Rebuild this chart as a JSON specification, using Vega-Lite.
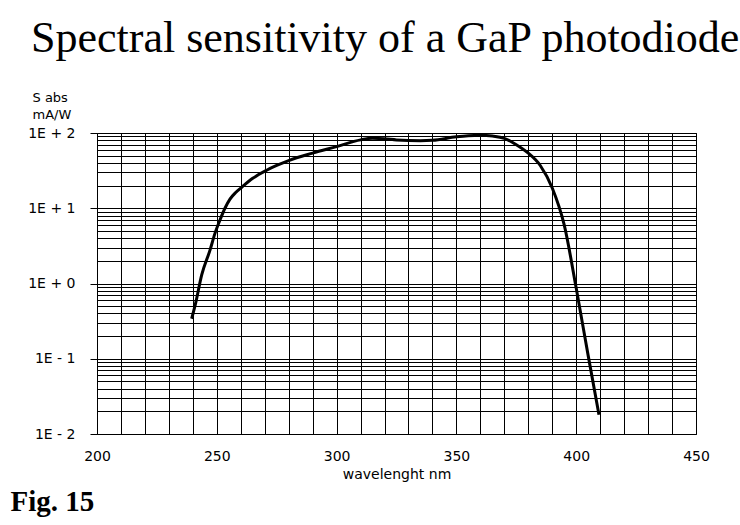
{
  "$schema": "https://vega.github.io/schema/vega-lite/v6.json",
  "width": 599,
  "height": 301,
  "autosize": {"type": "none"},
  "padding": {"left": 97, "top": 133, "right": 44, "bottom": 91},
  "background": "white",
  "title": {
    "text": "Spectral sensitivity of a GaP photodiode",
    "font": "Liberation Serif",
    "fontSize": 44,
    "fontWeight": "normal",
    "color": "black",
    "anchor": "start",
    "frame": "group",
    "dx": -66,
    "offset": 30
  },
  "config": {
    "view": {"stroke": "black", "strokeWidth": 1},
    "axis": {"labelColor": "black", "titleColor": "black", "gridColor": "black", "gridOpacity": 1, "gridWidth": 1}
  },
  "data": {
    "values": [
      {"wl": 239.5, "s": 0.34},
      {"wl": 241, "s": 0.52},
      {"wl": 243.7, "s": 1.3},
      {"wl": 247.2, "s": 2.8},
      {"wl": 249.2, "s": 4.6},
      {"wl": 251.5, "s": 7.2},
      {"wl": 253.4, "s": 10},
      {"wl": 255.5, "s": 13.2},
      {"wl": 258, "s": 16.3},
      {"wl": 260.4, "s": 19},
      {"wl": 265, "s": 25},
      {"wl": 270.8, "s": 32},
      {"wl": 275, "s": 37},
      {"wl": 280, "s": 43},
      {"wl": 290, "s": 54},
      {"wl": 300, "s": 66},
      {"wl": 310, "s": 81},
      {"wl": 315, "s": 85},
      {"wl": 320, "s": 84},
      {"wl": 325, "s": 81},
      {"wl": 335, "s": 79},
      {"wl": 340, "s": 80},
      {"wl": 350, "s": 89},
      {"wl": 355, "s": 92},
      {"wl": 360, "s": 93},
      {"wl": 365, "s": 91},
      {"wl": 370, "s": 85},
      {"wl": 375, "s": 70},
      {"wl": 380, "s": 54},
      {"wl": 385, "s": 37},
      {"wl": 390, "s": 18.6},
      {"wl": 395, "s": 6.0},
      {"wl": 400, "s": 0.87},
      {"wl": 405, "s": 0.11},
      {"wl": 409.5, "s": 0.018}
    ]
  },
  "layer": [
    {
      "mark": {"type": "line", "color": "black", "strokeWidth": 3, "interpolate": "monotone"},
      "encoding": {
        "x": {
          "field": "wl",
          "type": "quantitative",
          "scale": {"domain": [200, 450], "nice": false, "zero": false},
          "axis": {
            "values": [200,210,220,230,240,250,260,270,280,290,300,310,320,330,340,350,360,370,380,390,400,410,420,430,440,450],
            "labelExpr": "datum.value % 50 === 0 ? datum.label : ''",
            "labelOverlap": false,
            "labelFlush": false,
            "grid": true,
            "ticks": false,
            "domain": false,
            "labelFont": "DejaVu Sans",
            "labelFontSize": 14,
            "labelPadding": 15,
            "title": "wavelenght nm",
            "titleFont": "DejaVu Sans",
            "titleFontSize": 14,
            "titleFontWeight": "normal",
            "titlePadding": 4
          }
        },
        "y": {
          "field": "s",
          "type": "quantitative",
          "scale": {"type": "log", "domain": [0.01, 100], "nice": false},
          "axis": {
            "values": [0.01, 0.1, 1, 10, 100],
            "labelExpr": "datum.value >= 50 ? '1E + 2' : datum.value >= 5 ? '1E + 1' : datum.value >= 0.5 ? '1E + 0' : datum.value >= 0.05 ? '1E - 1' : '1E - 2'",
            "labelOverlap": false,
            "labelFlush": false,
            "grid": true,
            "ticks": true,
            "tickSize": 7,
            "tickColor": "black",
            "domain": false,
            "labelFont": "DejaVu Sans",
            "labelFontSize": 14,
            "labelPadding": 15,
            "title": ["S abs", "mA/W"],
            "titleFont": "DejaVu Sans",
            "titleFontSize": 13,
            "titleFontWeight": "normal",
            "titleAngle": 0,
            "titleAlign": "left",
            "titleBaseline": "alphabetic",
            "titleX": -65,
            "titleY": -32,
            "titleLineHeight": 17
          }
        }
      }
    },
    {
      "mark": {"type": "line", "strokeOpacity": 0},
      "encoding": {
        "y": {
          "field": "s",
          "type": "quantitative",
          "axis": {
            "orient": "right",
            "values": [0.02,0.03,0.04,0.05,0.06,0.07,0.08,0.09,0.2,0.3,0.4,0.5,0.6,0.7,0.8,0.9,2,3,4,5,6,7,8,9,20,30,40,50,60,70,80,90],
            "grid": true,
            "labels": false,
            "ticks": false,
            "domain": false,
            "title": "Fig. 15",
            "titleFont": "Liberation Serif",
            "titleFontSize": 29,
            "titleFontWeight": "bold",
            "titleAngle": 0,
            "titleAlign": "left",
            "titleBaseline": "alphabetic",
            "titleX": -686,
            "titleY": 377
          }
        }
      }
    }
  ],
  "resolve": {"axis": {"y": "independent"}}
}
